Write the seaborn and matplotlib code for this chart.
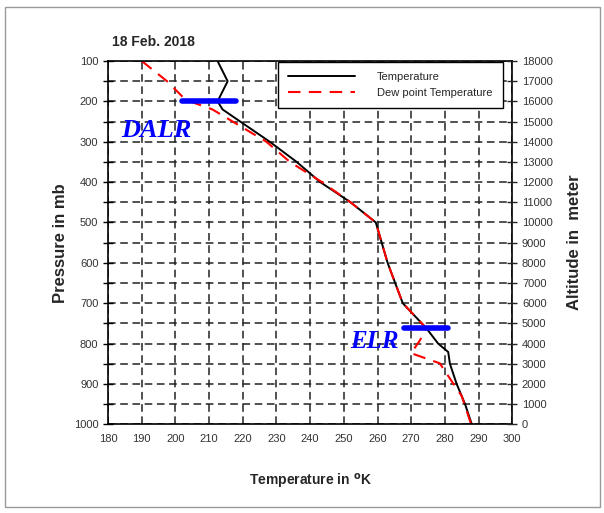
import numpy as np
import pandas as pd
import seaborn as sns
import matplotlib.pyplot as plt
from matplotlib.patches import Rectangle

# Dados (pressão em mb, temperatura em K)
pres_temp = [100, 150, 200, 220, 300, 350, 400, 450, 500, 600, 700, 762, 800, 821, 850, 900, 950, 1000]
temp = [212.5, 215.5, 212.5, 214, 228, 236, 243, 252, 259.5, 263, 267.5, 274.5, 278, 281, 281.5, 283.5, 286, 288]

pres_dew = [100, 150, 196, 220, 300, 350, 400, 450, 500, 600, 700, 762, 792, 824, 849, 898, 930, 1000]
dew = [190, 197.5, 203, 211, 227, 234, 243.5, 252, 259.5, 263, 267.5, 274.5, 272.6, 270, 278.5, 282.4, 285, 287.8]

alt_ticks = list(range(0, 18001, 1000))
x_ticks = list(range(180, 301, 10))
p_ticks = list(range(100, 1001, 100))

df_t = pd.DataFrame({'T': temp, 'P': pres_temp})
df_d = pd.DataFrame({'T': dew, 'P': pres_dew})

sns.set_style('white')
plt.rcParams['font.family'] = ['Liberation Sans', 'DejaVu Sans']

fig = plt.figure(figsize=(6.04, 5.13), dpi=100)
ax = fig.add_axes([0.179, 0.173, 0.669, 0.708])

# borda cinza da figura
fig.patches.append(Rectangle((0.008, 0.012), 0.985, 0.975, transform=fig.transFigure,
                             fill=False, edgecolor='#999999', linewidth=1))

sns.lineplot(data=df_t, x='T', y='P', sort=False, estimator=None, color='black',
             linewidth=1.4, label='Temperature', ax=ax)
sns.lineplot(data=df_d, x='T', y='P', sort=False, estimator=None, color='red',
             linewidth=1.5, label='Dew point Temperature', ax=ax)
ax.lines[1].set_linestyle((0, (6, 4)))

# linhas azuis DALR e ELR
ax.plot([202, 218], [200, 200], color='blue', linewidth=4, solid_capstyle='round')
ax.plot([268, 281], [762, 762], color='blue', linewidth=4, solid_capstyle='round')
ax.text(184, 272, 'DALR', color='blue', fontsize=19, fontstyle='italic', fontweight='bold',
        family='Liberation Serif', va='center')
ax.text(252, 795, 'ELR', color='blue', fontsize=18, fontstyle='italic', fontweight='bold',
        family='Liberation Serif', va='center')

ax.set_xlim(180, 300)
ax.set_ylim(1000, 100)
ax.set_xticks(x_ticks)
ax.set_yticks(p_ticks)
ax.set_yticks(list(range(150, 1000, 100)), minor=True)
ax.tick_params(axis='both', which='both', direction='inout', length=7, width=1,
               labelsize=8, colors='black', labelcolor='#333333')
ax.grid(True, which='both', color='#222222', linestyle=(0, (5, 3)), linewidth=1.1)
for s in ax.spines.values():
    s.set_color('black')
    s.set_linewidth(1.2)

ax.set_xlabel('Temperature in $^{\\mathbf{o}}$K', fontsize=10, fontweight='bold', labelpad=20)
ax.set_ylabel('Pressure in mb', fontsize=12, fontweight='bold', labelpad=4)
ax.set_title('18 Feb. 2018', loc='left', fontsize=10, fontweight='bold', x=0.01, pad=11)

leg = ax.legend(loc='upper right', fontsize=8, frameon=True, fancybox=False,
                edgecolor='black', framealpha=1, handlelength=6, borderpad=0.9,
                handletextpad=2.0, bbox_to_anchor=(0.99, 1.012))
leg.get_frame().set_linewidth(1)

# eixo da altitude
ax2 = ax.twinx()
ax2.set_ylim(0, 18000)
ax2.set_yticks(alt_ticks)
ax2.tick_params(axis='y', direction='inout', length=7, width=1, labelsize=8,
                labelcolor='#333333')
ax2.set_ylabel('Altitude in  meter', fontsize=12, fontweight='bold', labelpad=10)
for s in ax2.spines.values():
    s.set_visible(False)

plt.savefig('out.png', dpi=100)
